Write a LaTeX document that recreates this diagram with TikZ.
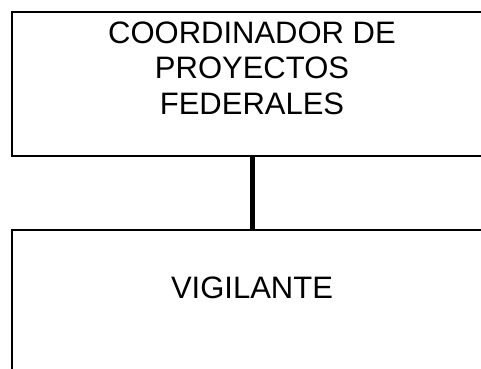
\documentclass[tikz,border=0pt]{standalone}
\usepackage{fontspec}
\setmainfont{Liberation Sans}
\usetikzlibrary{positioning}
\tikzset{
  orgbox/.style={rectangle,draw=black,line width=2pt,align=center,
    minimum width=480pt,minimum height=144pt,inner sep=0pt,
    font=\fontsize{31}{35.5}\selectfont},
  linkline/.style={draw=black,line width=5pt}
}

\begin{document}
\begin{tikzpicture}[x=1pt,y=-1pt]
  \useasboundingbox (0,0) rectangle (481,368);
  \clip (0,0) rectangle (481,368);
  \node[orgbox,text height=93pt,text depth=33pt] (coord) at (252,84)
      {COORDINADOR DE\\PROYECTOS\\FEDERALES};
  \node[orgbox,text height=22pt,text depth=30pt,below=72pt of coord] (vig)
      {VIGILANTE};

  \draw[linkline] (coord)--(vig);
\end{tikzpicture}
\end{document}
